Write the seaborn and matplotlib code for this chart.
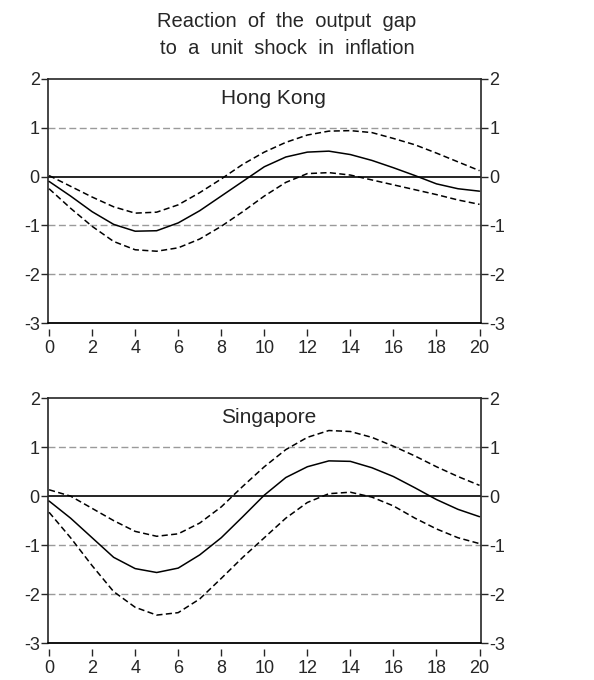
import numpy as np
import pandas as pd
import matplotlib
matplotlib.use("Agg")
import matplotlib.pyplot as plt
import seaborn as sns

# --- dados (resposta do hiato do produto) ---
periodos = list(range(21))

hk_resp = [-0.10, -0.40, -0.72, -0.98, -1.12, -1.11, -0.95, -0.70, -0.40, -0.10, 0.20,
           0.40, 0.50, 0.52, 0.45, 0.33, 0.18, 0.02, -0.15, -0.25, -0.30]
hk_sup = [0.02, -0.20, -0.42, -0.62, -0.75, -0.73, -0.58, -0.33, -0.05, 0.25, 0.50,
          0.70, 0.85, 0.93, 0.94, 0.90, 0.78, 0.65, 0.48, 0.30, 0.12]
hk_inf = [-0.25, -0.65, -1.02, -1.33, -1.50, -1.53, -1.46, -1.28, -1.02, -0.72, -0.40,
          -0.12, 0.06, 0.08, 0.03, -0.07, -0.17, -0.27, -0.37, -0.48, -0.57]

sg_resp = [-0.10, -0.45, -0.85, -1.25, -1.48, -1.56, -1.47, -1.20, -0.85, -0.42, 0.02,
           0.38, 0.60, 0.72, 0.71, 0.58, 0.40, 0.17, -0.07, -0.27, -0.42]
sg_sup = [0.13, 0.00, -0.25, -0.50, -0.72, -0.82, -0.77, -0.55, -0.22, 0.20, 0.60,
          0.95, 1.20, 1.34, 1.32, 1.20, 1.02, 0.82, 0.60, 0.40, 0.22]
sg_inf = [-0.33, -0.85, -1.42, -1.95, -2.27, -2.43, -2.38, -2.10, -1.68, -1.25, -0.85,
          -0.45, -0.13, 0.05, 0.08, -0.02, -0.20, -0.45, -0.67, -0.85, -0.97]

paises = ['Hong Kong', 'Singapore']
series = {
    'Hong Kong': (hk_resp, hk_sup, hk_inf),
    'Singapore': (sg_resp, sg_sup, sg_inf),
}
yticks = [-3, -2, -1, 0, 1, 2]
xticks = list(range(0, 21, 2))
grade = [1, -1, -2]

sns.set_style('ticks')
plt.rcParams['font.family'] = ['Liberation Sans', 'DejaVu Sans']
plt.rcParams['axes.unicode_minus'] = False

fig = plt.figure(figsize=(5.94, 6.8), dpi=100)
posicoes = [[0.0808, 0.525, 0.729, 0.359], [0.0808, 0.0544, 0.729, 0.360]]

for pais, pos in zip(paises, posicoes):
    resp, sup, inf = series[pais]
    df = pd.DataFrame({'periodo': periodos * 3,
                       'valor': resp + sup + inf,
                       'serie': ['resp'] * 21 + ['sup'] * 21 + ['inf'] * 21})
    ax = fig.add_axes(pos)
    for g in grade:
        ax.axhline(g, color='#9a9a9a', lw=1.0, ls=(0, (5, 2.5)), zorder=1)
    ax.axhline(0, color='black', lw=1.2, zorder=2)
    sns.lineplot(data=df[df.serie == 'resp'], x='periodo', y='valor',
                 color='black', lw=1.1, ax=ax, zorder=3)
    for s in ['sup', 'inf']:
        sns.lineplot(data=df[df.serie == s], x='periodo', y='valor',
                     color='black', lw=1.1, ax=ax, zorder=3, dashes=False)
        ax.lines[-1].set_linestyle((0, (4, 2.2)))
    ax.set_xlim(-0.05, 20.07)
    ax.set_ylim(-3, 2)
    ax.set_xticks(xticks)
    ax.set_yticks(yticks)
    ax.set_xlabel('')
    ax.set_ylabel('')
    ax.tick_params(axis='y', direction='out', length=5, width=1, labelsize=13,
                   right=True, labelright=True, pad=1)
    ax.tick_params(axis='x', direction='out', length=5, width=1, labelsize=13, pad=3)
    for sp in ['left', 'right', 'top']:
        ax.spines[sp].set_linewidth(1.2)
        ax.spines[sp].set_visible(True)
    ax.spines['bottom'].set_position(('outward', 4))
    ax.spines['bottom'].set_visible(False)
    ax.axhline(-3, color='black', lw=1.3, zorder=4, clip_on=False)
    ax.text(8.0, 1.6, pais, ha='left', va='center', fontsize=15)

fig.text(0.483, 0.968, 'Reaction  of  the  output  gap', ha='center', va='center', fontsize=14.5)
fig.text(0.483, 0.929, 'to  a  unit  shock  in  inflation', ha='center', va='center', fontsize=14.5)

fig.savefig('out.png', dpi=100)
